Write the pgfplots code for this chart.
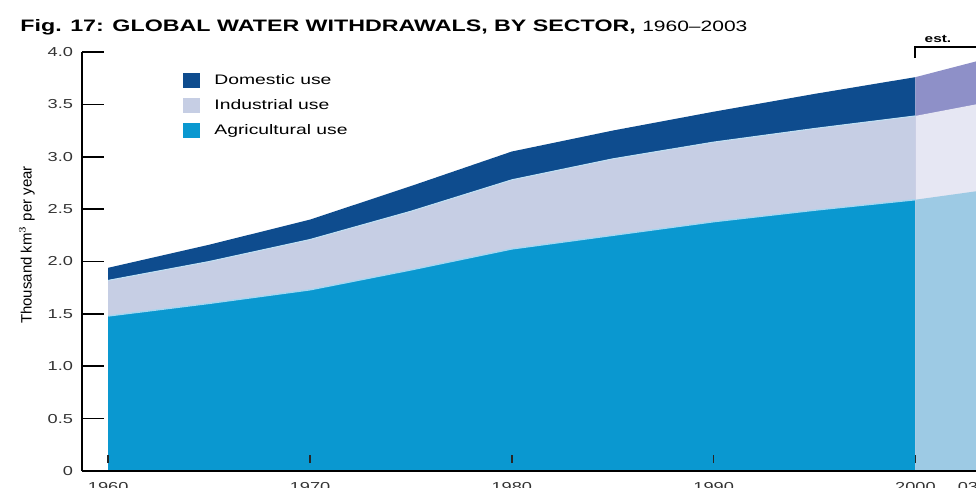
\documentclass[border=0pt]{standalone}
\usepackage{pgfplots}
\usepackage{pgfplotstable}
\pgfplotsset{compat=1.18}
\usepackage{fontspec}
\setmainfont[FakeStretch=1.4]{Liberation Sans}
\newfontfamily\plainfont{Liberation Sans}

\definecolor{agric}{HTML}{0A98D0}
\definecolor{indc}{HTML}{C6CEE4}
\definecolor{domc}{HTML}{0E4C8E}
\definecolor{agrie}{HTML}{9DCAE4}
\definecolor{inde}{HTML}{E6E7F3}
\definecolor{dome}{HTML}{8E90C8}
\definecolor{sepc}{HTML}{A6D6F0}

\pgfplotstableread{
year agri ind dom
1960 1.48 1.82 1.94
1965 1.60 2.00 2.16
1970 1.73 2.21 2.40
1975 1.92 2.48 2.72
1980 2.12 2.78 3.05
1985 2.25 2.98 3.25
1990 2.38 3.14 3.43
1995 2.49 3.27 3.60
2000 2.59 3.39 3.76
}\histdata

\pgfplotstableread{
year agri ind dom
2000 2.59 3.39 3.76
2003 2.67 3.50 3.91
}\estdata

\begin{document}
\begin{tikzpicture}
\clip (0,0) rectangle (488pt,244pt);
\begin{axis}[
  at={(41pt,8.5pt)}, anchor=south west,
  scale only axis, width=447pt, height=209.5pt,
  xmin=1958.7, xmax=2003, ymin=0, ymax=4,
  axis x line=bottom, axis y line=left,
  axis line style={-, line width=0.8pt, black},
  axis on top,
  tick align=inside,
  /pgf/number format/assume math mode=true,
  ytick={0,0.5,1,1.5,2,2.5,3,3.5,4},
  yticklabels={0,0.5,1.0,1.5,2.0,2.5,3.0,3.5,4.0},
  xtick={1960,1970,1980,1990,2000},
  xticklabels={1960,1970,1980,1990,2000},
  extra x ticks={2002.6},
  extra x tick labels={03},
  extra x tick style={xtick style={draw=none}},
  major tick length=11pt,
  xtick style={/pgfplots/major tick length=4pt, yshift=4pt, line width=0.8pt, black!85},
  ytick style={line width=0.8pt, black},
  tick label style={font=\fontsize{6.5}{7}\selectfont, text=black!80},
  xticklabel style={yshift=-2pt},
  yticklabel style={xshift=-1pt},
  legend style={at={(0.113,0.952)}, anchor=north west, draw=none, fill=none,
    font=\fontsize{6.9}{8}\selectfont, row sep=5pt, inner sep=0pt,
    nodes={inner sep=0pt, anchor=west, text height=5pt, text depth=1pt},
    /tikz/column sep=7pt},
  legend cell align=left,
  legend image code/.code={\fill[#1] (0pt,-3.75pt) rectangle (8.5pt,3.75pt);},
]
\addplot[fill=domc, draw=none] table[x=year,y=dom] {\histdata} \closedcycle;
\addlegendentry{Domestic use}
\addplot[fill=indc, draw=none] table[x=year,y=ind] {\histdata} \closedcycle;
\addlegendentry{Industrial use}
\addplot[fill=agric, draw=none] table[x=year,y=agri] {\histdata} \closedcycle;
\addlegendentry{Agricultural use}
\addplot[forget plot, fill=dome, draw=none] table[x=year,y=dom] {\estdata} \closedcycle;
\addplot[forget plot, fill=inde, draw=none] table[x=year,y=ind] {\estdata} \closedcycle;
\addplot[forget plot, fill=agrie, draw=none] table[x=year,y=agri] {\estdata} \closedcycle;
\addplot[forget plot, draw=sepc, line width=0.7pt] table[x=year,y=agri] {\histdata};
\addplot[forget plot, draw=sepc!70, line width=0.5pt] table[x=year,y=ind] {\histdata};
\end{axis}
\node[anchor=base west, inner sep=0pt] at (10pt,228pt)
  {\fontsize{8.3}{10}\selectfont\bfseries Fig. 17: GLOBAL WATER WITHDRAWALS, BY SECTOR, {\mdseries\fontsize{7.5}{9}\selectfont 1960--2003}};
\node[rotate=90, inner sep=0pt, font=\plainfont\fontsize{7.5}{9}\selectfont] at (13.5pt,121.5pt) {Thousand km$^3$ per year};
\draw[line width=0.7pt] (457.5pt,215pt) -- (457.5pt,220.5pt) -- (488pt,220.5pt);
\node[inner sep=0pt, font=\fontsize{5.5}{6}\selectfont\bfseries] at (469pt,224.5pt) {est.};
\end{tikzpicture}
\end{document}
